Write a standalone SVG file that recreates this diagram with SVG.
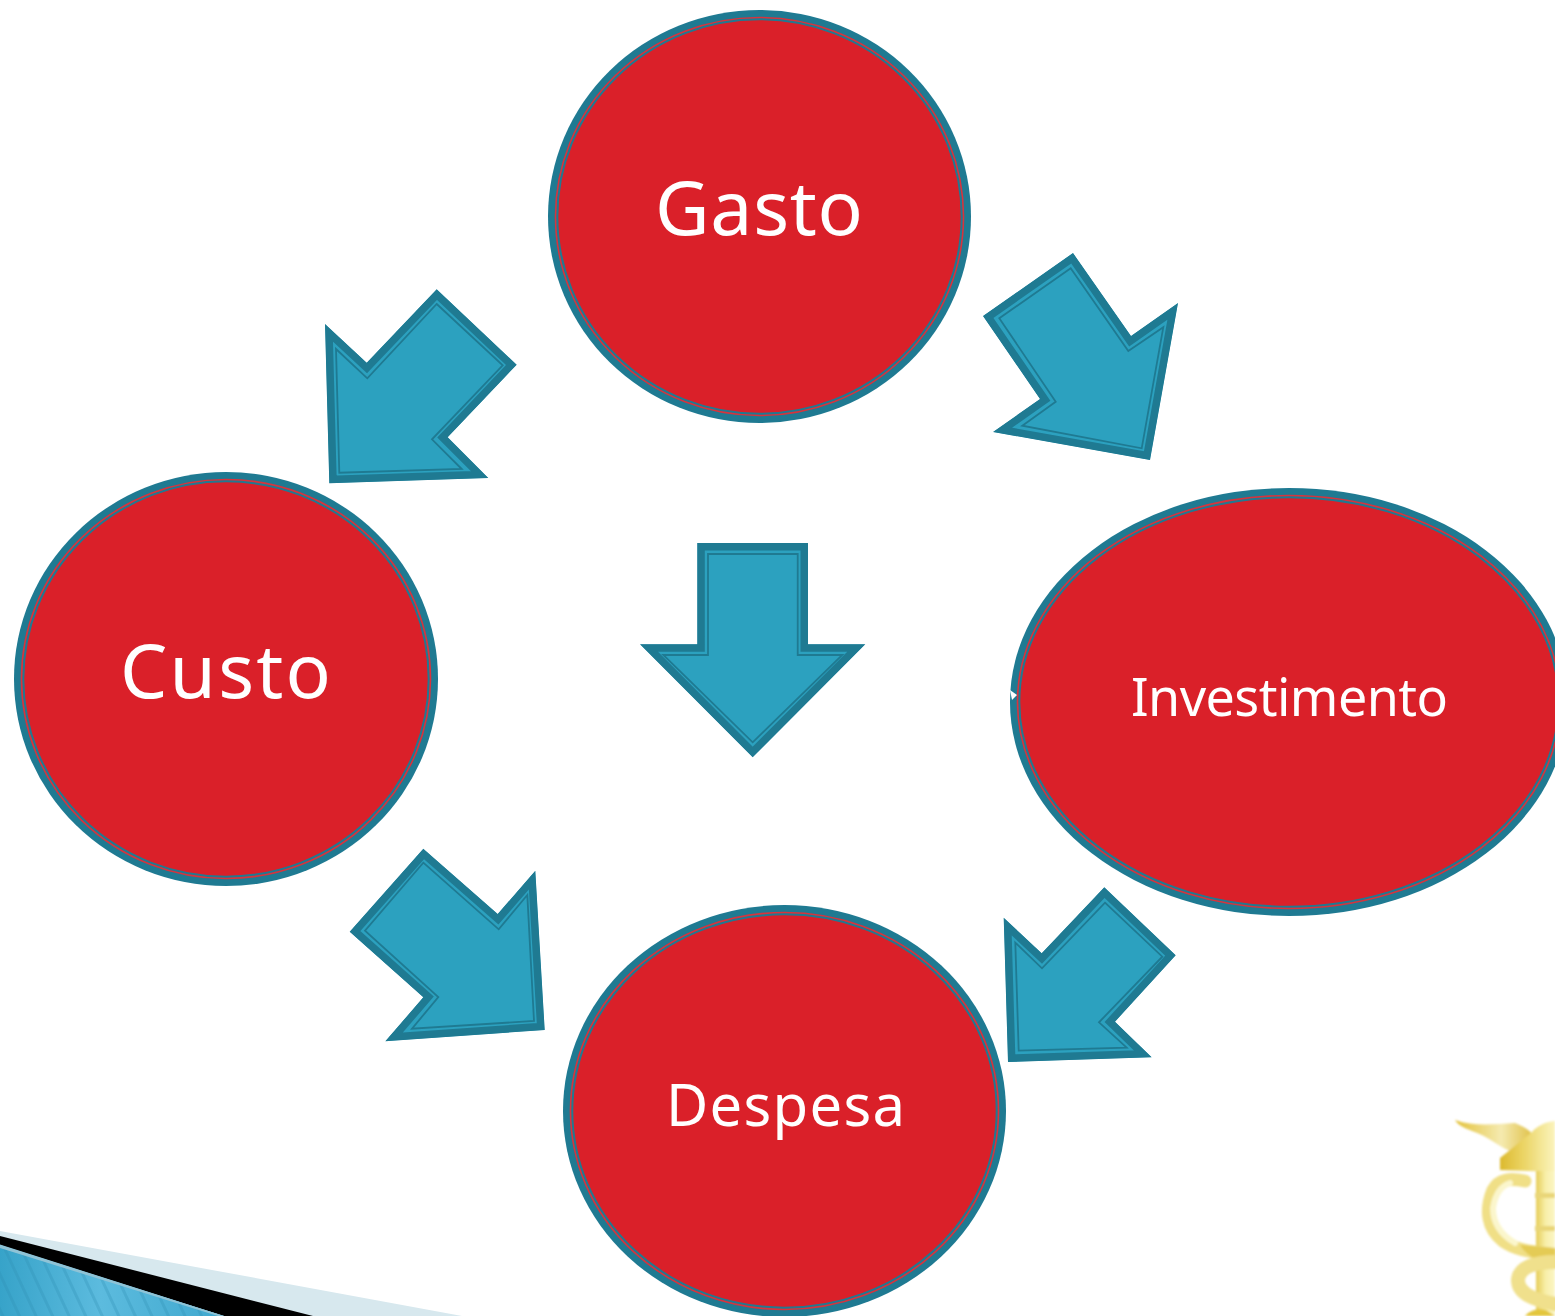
<svg xmlns="http://www.w3.org/2000/svg" width="1555" height="1316" viewBox="0 0 1555 1316">
<style>
.o{fill:#1f7a92}.m{fill:#da2029;stroke:#1f7a92;stroke-width:1.6}.r{fill:none;stroke:#d8333c;stroke-width:1.6}
.a{fill:#2ca1bf;stroke:#1f7a92;stroke-width:15;stroke-linejoin:miter;stroke-miterlimit:12}
.t{fill:none;stroke:#1f7a92;stroke-width:1.8;stroke-miterlimit:12}
text{font-family:"Noto Sans","DejaVu Sans",sans-serif;fill:#fff;text-anchor:start}
.g{stroke-linecap:round;fill:none}
</style>
<defs>
<clipPath id="c1"><polygon points="436.7,289.3 516.7,364.7 447.7,437.3 488.3,478 329.3,483.3 325,324 366.7,362.7"/></clipPath>
<clipPath id="c2"><polygon points="1073,253 1131,336 1178,303 1150,460 993,432 1040,399 983,316"/></clipPath>
<clipPath id="c3"><polygon points="697.3,543 808,543 808,644.3 865.3,644.3 752.7,757.3 640,644.3 697.3,644.3"/></clipPath>
<clipPath id="c4"><polygon points="423.3,848.7 497.7,914 535.3,870.7 544.7,1030 385.3,1041.3 423.3,997.3 349.7,931.7"/></clipPath>
<clipPath id="c5"><polygon points="1104.3,887.3 1175.7,955.3 1115,1021.7 1151.7,1057.3 1008,1062 1003.7,917.7 1041.7,953.3"/></clipPath>
<linearGradient id="blue" x1="0" x2="1" y1="0" y2="0"><stop offset="0" stop-color="#37a3c9"/><stop offset=".45" stop-color="#5cbbde"/><stop offset="1" stop-color="#3fa8ce"/></linearGradient>
<pattern id="st" width="15" height="15" patternUnits="userSpaceOnUse" patternTransform="rotate(-25)"><rect width="3" height="15" fill="#2f8fb5" fill-opacity=".3"/></pattern>
<linearGradient id="hat" x1="0" x2="1" y1="0" y2="0"><stop offset="0" stop-color="#dcb92e"/><stop offset=".45" stop-color="#ecd668"/><stop offset="1" stop-color="#fbf4bd"/></linearGradient>
<linearGradient id="staff" x1="0" x2="1" y1="0" y2="0"><stop offset="0" stop-color="#e6cd58"/><stop offset=".5" stop-color="#f8efa8"/><stop offset="1" stop-color="#fbf6c6"/></linearGradient>
<linearGradient id="wing" x1="0" x2="1" y1="0" y2="0"><stop offset="0" stop-color="#e3c23a"/><stop offset=".6" stop-color="#f5eab0"/><stop offset="1" stop-color="#e0c24a"/></linearGradient>
<filter id="soft" x="-10%" y="-10%" width="120%" height="120%"><feGaussianBlur stdDeviation="0.9"/></filter>
</defs>

<rect width="1555" height="1316" fill="#fff"/>

<g id="corner-decoration">
<polygon points="0,1231 462,1316 0,1316" fill="#d7e8ee"/>
<polygon points="0,1236 313,1316 224,1316 0,1246" fill="#000"/>
<polygon points="0,1245 224,1316 0,1316" fill="url(#blue)"/>
<polygon points="0,1245 224,1316 0,1316" fill="url(#st)"/>
<polygon points="0,1244.5 224,1316 218,1316 0,1248" fill="#8fc3d6"/>
</g>

<g id="caduceus" filter="url(#soft)">
<path d="M1455,1120 C1475,1127 1495,1124 1515,1123 C1522,1126 1529,1129 1532,1134 L1515,1153 C1500,1148 1488,1136 1472,1131 C1464,1128 1458,1125 1455,1120 Z" fill="url(#wing)"/>
<path d="M1532,1132 C1537,1126 1545,1122 1555,1121 L1555,1172 L1500,1170 L1500,1158 Z" fill="url(#hat)"/>
<rect x="1536" y="1171" width="19" height="145" fill="url(#staff)"/>
<rect x="1535" y="1193" width="20" height="5" fill="#e9d678"/>
<rect x="1535" y="1226" width="20" height="5" fill="#e9d678"/>
<path class="g" d="M1525,1181 C1510,1178 1499,1179 1493,1190 C1485,1210 1487,1228 1503,1241 C1517,1251 1535,1252 1555,1255" stroke="#f0df86" stroke-width="13"/>
<path class="g" d="M1510,1183 C1501,1186 1495,1195 1493,1208 C1493,1225 1503,1236 1515,1243" stroke="#fbf6cc" stroke-width="6"/>
<path d="M1520,1245 C1532,1246 1545,1247 1555,1248 L1555,1263 C1540,1262 1528,1258 1520,1245 Z" fill="#e4cb55"/>
<path class="g" d="M1555,1262 C1535,1262 1519,1267 1518,1280 C1518,1294 1534,1300 1555,1304" stroke="#f0e08c" stroke-width="14"/>
<path d="M1525,1316 C1530,1310 1538,1308 1546,1310 L1555,1316 Z" fill="#e3c63e"/>
</g>

<g id="connectors">
<g clip-path="url(#c1)"><polygon class="a" points="436.7,289.3 516.7,364.7 447.7,437.3 488.3,478 329.3,483.3 325,324 366.7,362.7"/></g>
<polygon class="t" points="436.7,304 502.7,365.3 432,439.3 461.7,469 339.3,472.7 336,349 367.3,378.3"/>
<g clip-path="url(#c2)"><polygon class="a" points="1073,253 1131,336 1178,303 1150,460 993,432 1040,399 983,316"/></g>
<polygon class="t" points="1070.7,268.3 1128.3,351 1163.3,327.3 1141.7,448.3 1022.3,425.7 1055.7,401.7 999.3,318.3"/>
<g clip-path="url(#c3)"><polygon class="a" points="697.3,543 808,543 808,644.3 865.3,644.3 752.7,757.3 640,644.3 697.3,644.3"/></g>
<polygon class="t" points="708,554 797.7,554 797.7,655 842.3,655 752.7,742.3 663.3,655 708,655"/>
<g clip-path="url(#c4)"><polygon class="a" points="423.3,848.7 497.7,914 535.3,870.7 544.7,1030 385.3,1041.3 423.3,997.3 349.7,931.7"/></g>
<polygon class="t" points="423.3,862.7 498.7,929.3 527.3,895 534,1021 412,1028.7 438.3,997 365,930.7"/>
<g clip-path="url(#c5)"><polygon class="a" points="1104.3,887.3 1175.7,955.3 1115,1021.7 1151.7,1057.3 1008,1062 1003.7,917.7 1041.7,953.3"/></g>
<polygon class="t" points="1105,902.7 1162.3,956.7 1099,1022.3 1126.7,1047.7 1018.7,1050.7 1015.3,942.7 1042,968.3"/>
</g>

<g id="node-gasto">
<ellipse class="o" cx="759.5" cy="216.5" rx="211.5" ry="206.5"/>
<ellipse class="m" cx="759.5" cy="216.5" rx="202" ry="197"/>
<ellipse class="r" cx="759.5" cy="216.5" rx="204" ry="199"/>
<text x="655" y="235" font-size="75" textLength="208">Gasto</text>
</g>
<g id="node-custo">
<ellipse class="o" cx="226" cy="679" rx="212" ry="207"/>
<ellipse class="m" cx="226" cy="679" rx="202.500" ry="197.500"/>
<ellipse class="r" cx="226" cy="679" rx="204.500" ry="199.500"/>
<text x="120" y="698" font-size="75" textLength="211">Custo</text>
</g>
<g id="node-investimento">
<ellipse class="o" cx="1289" cy="702" rx="279" ry="214"/>
<ellipse class="m" cx="1289" cy="702" rx="269.500" ry="204.500"/>
<ellipse class="r" cx="1289" cy="702" rx="271.500" ry="206.500"/>
<polygon points="1010,690 1017,695 1012,700" fill="#fff"/>
<text x="1131" y="716" font-size="52" textLength="317">Investimento</text>
</g>
<g id="node-despesa">
<ellipse class="o" cx="784.500" cy="1111" rx="221.500" ry="206"/>
<ellipse class="m" cx="784.500" cy="1111" rx="212" ry="196.500"/>
<ellipse class="r" cx="784.500" cy="1111" rx="214" ry="198.500"/>
<text x="666" y="1126" font-size="58" textLength="239">Despesa</text>
</g>
</svg>
